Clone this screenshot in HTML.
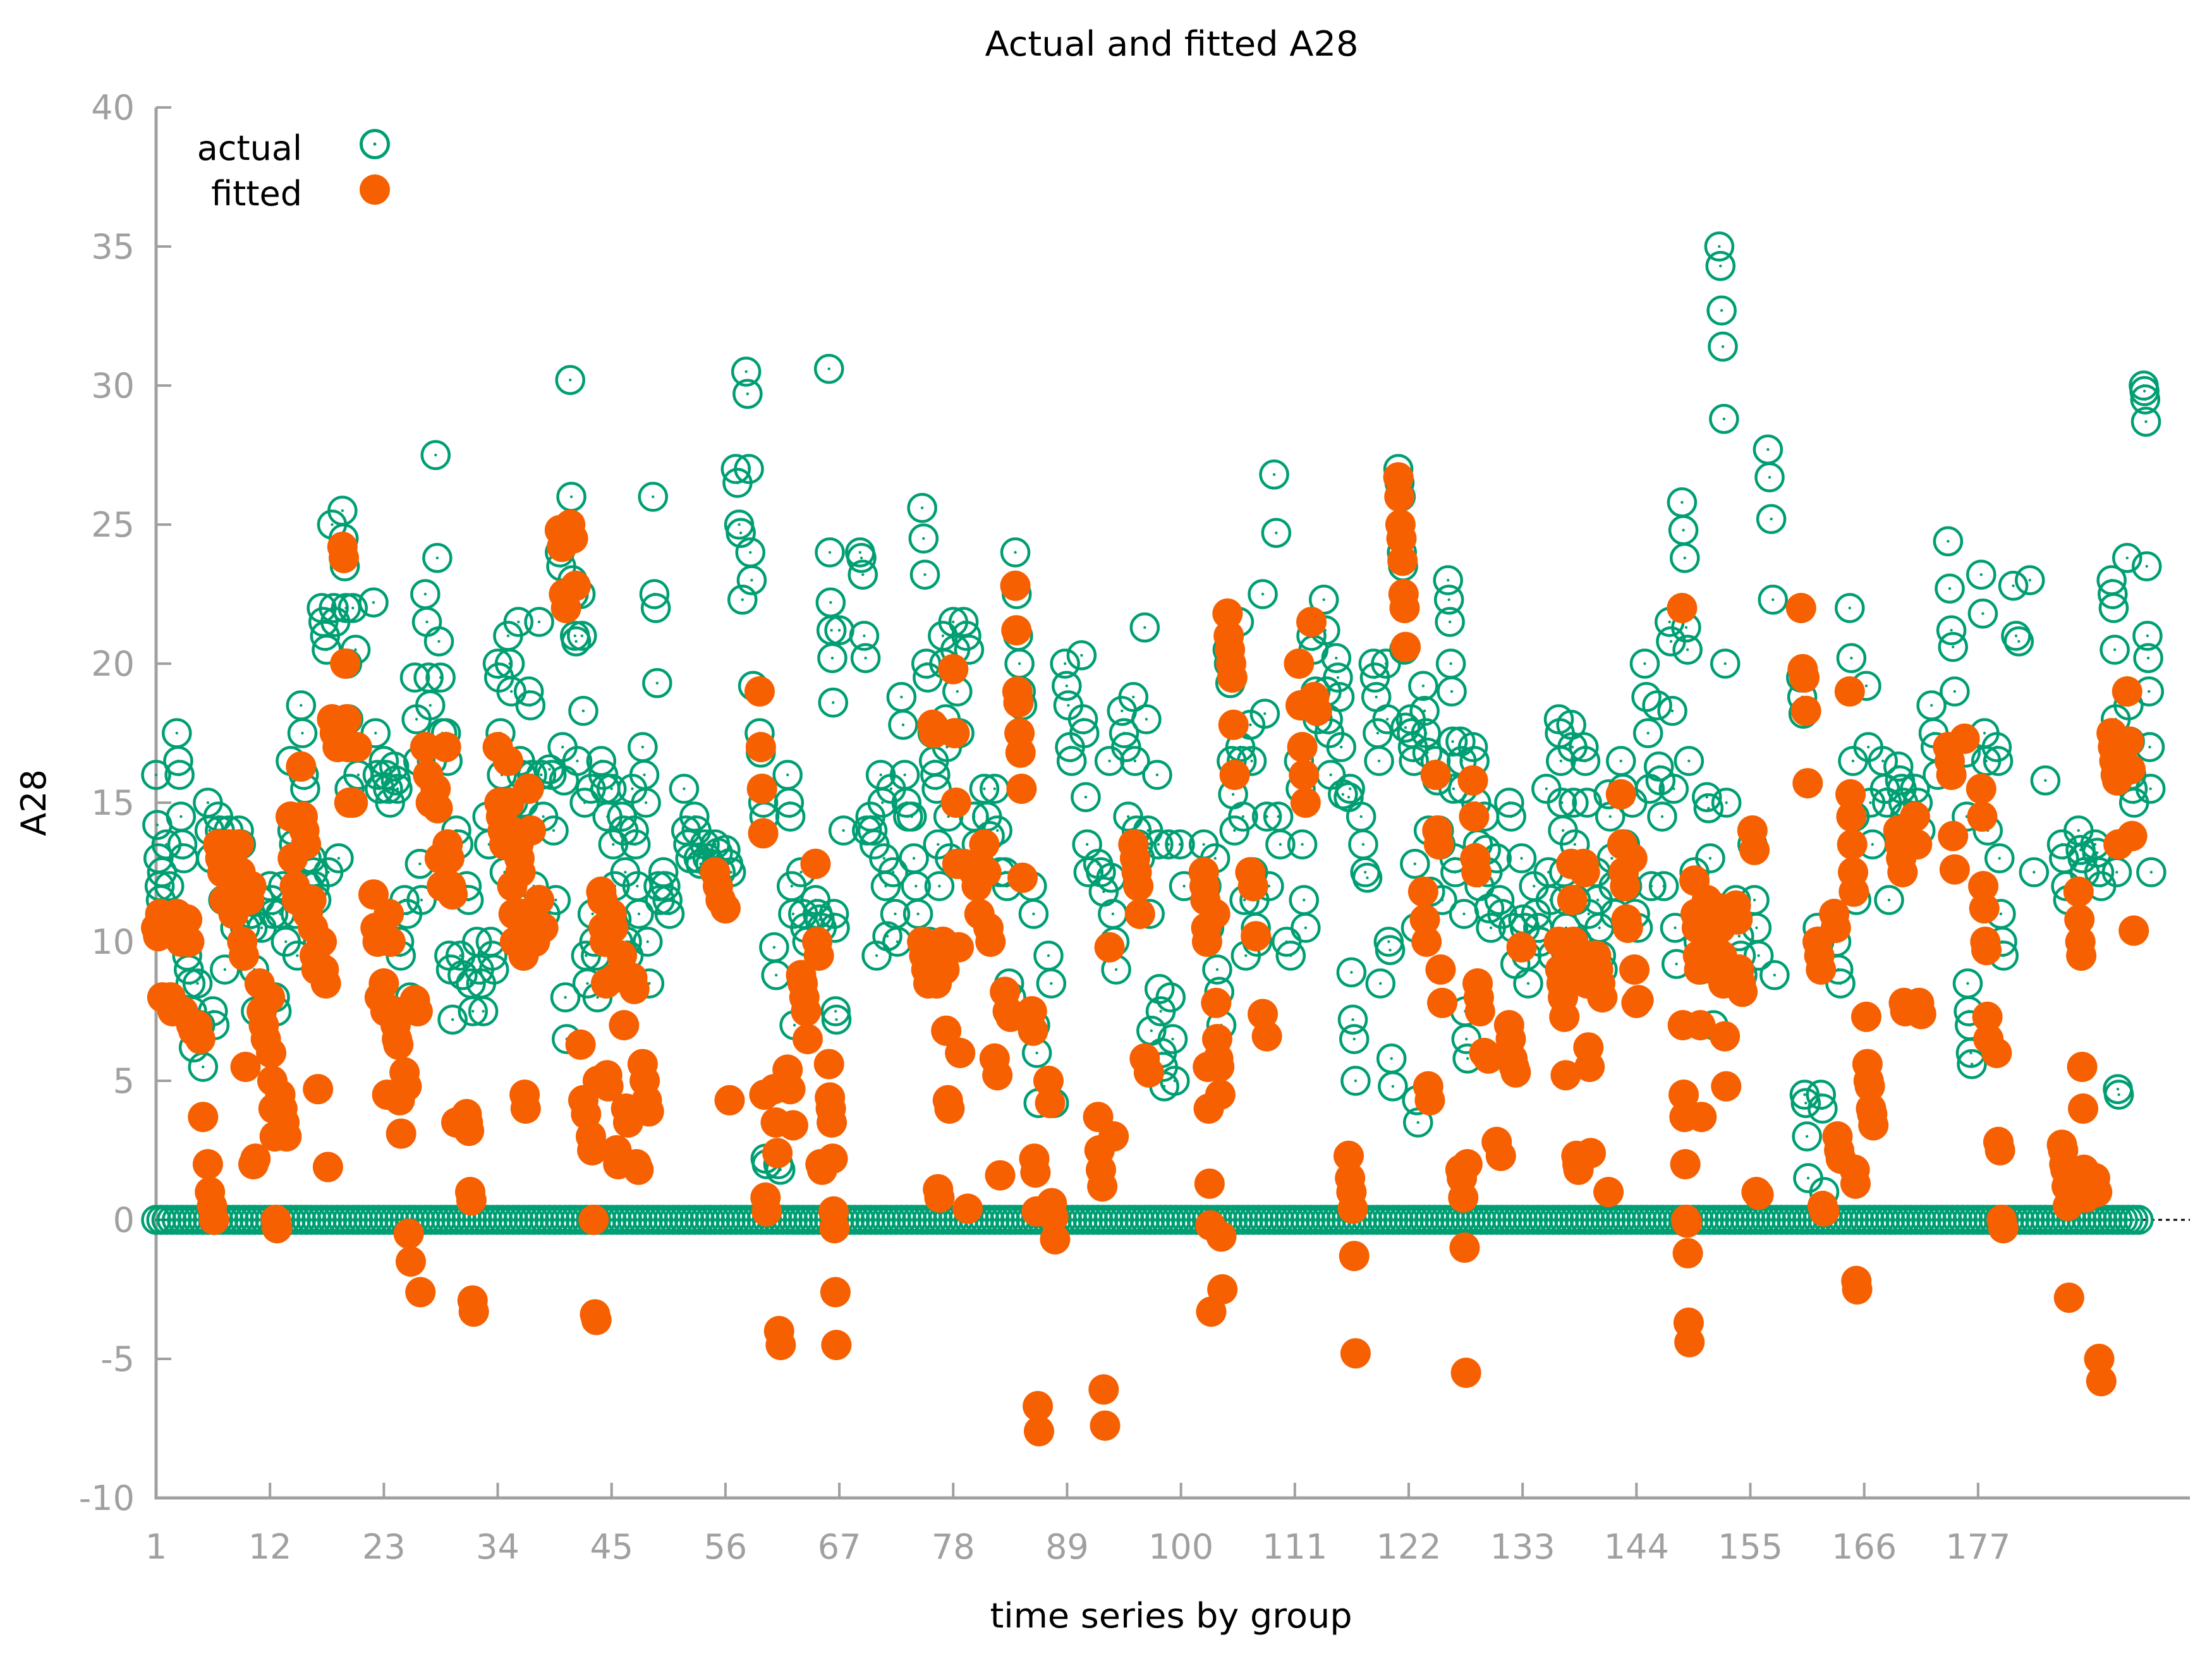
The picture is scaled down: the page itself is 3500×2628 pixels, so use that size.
<!DOCTYPE html>
<html><head><meta charset="utf-8"><style>
html,body{margin:0;padding:0;background:#fff;}
svg{display:block;}
text{font-family:"DejaVu Sans","Liberation Sans",sans-serif;}
</style></head>
<body>
<svg id="chart" width="3500" height="2628" viewBox="0 0 3500 2628" xmlns="http://www.w3.org/2000/svg">
<text x="1854" y="88" font-size="54" text-anchor="middle" textLength="591" lengthAdjust="spacingAndGlyphs" fill="#000">Actual and fitted A28</text>
<text x="0" y="0" font-size="54" text-anchor="middle" fill="#000" transform="translate(72,1270) rotate(-90)">A28</text>
<text x="1853" y="2575" font-size="54" text-anchor="middle" textLength="573" lengthAdjust="spacingAndGlyphs" fill="#000">time series by group</text>
<g id="axes"></g>
<g id="zeroline"></g>
<g id="actual"></g>
<g id="fitted"></g>
<g id="legend">
<text x="478" y="253" font-size="54" text-anchor="end" fill="#000">actual</text>
<circle cx="593" cy="228" r="21.5" fill="none" stroke="#009e73" stroke-width="5"/>
<circle cx="593" cy="228" r="2.5" fill="#009e73"/>
<text x="478" y="325" font-size="54" text-anchor="end" fill="#000">fitted</text>
<circle cx="593" cy="300" r="24" fill="#f66000"/>
</g>
</svg>
<script>
const xTicks = [1,12,23,34,45,56,67,78,89,100,111,122,133,144,155,166,177];
const yTicks = [-10,-5,0,5,10,15,20,25,30,35,40];
const clusterX = [1,2,3,4,5,6,7,8,9,10,11,12,13,14,15,16,17,18,19,20,21,22,23,24,25,26,27,28,29,30,31,32,33,34,35,36,37,38,39,40,41,42,43,44,45,46,47,48,49,50,51,52,53,54,55,56,57,58,
59.3,60.7,62,63.3,64.7,66,67,68,69,70,71,72,73,74,75,76,77,78,79,80,81,82,83,84,85.6,87.2,88.8,90.4,92,93.1,94.3,95.4,96.5,97.7,98.8,99.9,101.1,102.2,103.3,104.5,105.6,106.7,107.9,109,
110.2,111.4,112.6,113.8,115,116.2,117.4,118.6,119.8,121,122.2,123.4,124.6,125.8,127,128.2,129.3,130.5,131.7,132.9,134.1,135.3,136.5,137.7,138.9,140.1,141.3,142.5,143.6,144.8,146,147.2,148.4,149.6,150.8,152,
153.6,155.2,156.7,158.3,159.9,161.5,163.1,164.6,166.2,167.8,169.3,170.9,172.5,174.1,175.7,177.3,178.8,180.4,182,183.5,185.1,186.7,188.3,189.9,191.4,193];
const actualVals = [
"16 14.2 13 12 11.5 12.5 10.3","13.5 12 11","17.5 16.5 16 14.5 13.5 13","9.5 9 8.5 7.5 6.2","8.5 7 5.5","15 14 13 7.5 7","14.5 14 13.5 11.5 9","14 13.5 12.5 11 10.5","14 13.5 12 10.5","12 11 10.5 9 7.5",
"11.5 10.5 7 6.5","12 11.5 11 8 7.5","11 12 10","16.5 14 13.5 11 9.5","18.5 17.5 16 15.5 13 12","13 12.5 12 11.5 10","22 21.5 21 20.5 12.5","25 22 21.5 17.5 13","25.5 24.5 23.5 22 20 18 15.5","22 20.5 16",
"","22.2 17.5 16 15.5","16.5 16 15.5 15","16.3 15.8 15.5 10 9.5","11.5 11 8","19.5 18 16.5 12.8 11.5","22.5 21.5 19.5 18.5 16.5","27.5 23.8 20.8 19.5 17.5","17.5 16.5 9.5 9 7.2","14 13.5 9.5 8.8",
"12 11.5 8.5 7.5","10 9 8.5 7.5","14.5 13.5 10 9.5 9","20 19.5 17.5 16 15 12.5","21 20 19 15 14","21.5 16.5 16 15 14","19 18.5 16 12 11","21.5 16 14.5 11","16.2 16 14 11.5","24 23.5 17 15.8 8 6.5",
"30.2 26 23 22.5 21 20.8 16.5","22.5 21 18.3 15 9.5 8.5","15.5 11 10 9.5 8","16.5 16 15.5 14.5","15.5 13.5 12 10.8 10","14.5 14 12.5 10 9.5","15.5 14 13.5 12 11","17 16 15 10 8.5","26 22.5 22 19.3 12 11.5","12.5 12 11.5 11",
"","15.5 14 13.5 13","14.5 14 13 12.8","13.5 13 12.8","13.5 13.2 12.5","13.3 12.8 12.5","27 26.5 25 24.7 22.3","30.5 29.7 27 24 23 19.2","17.5 16.8 15.5 15 14.5 2.2 2","9.8 8.8 2 1.8",
"16 15 14.5 12 11 7","12.5 11 10.5 10","11.5 11 10.8 10.5","30.6 24 22.2 21.2 20.2 18.6 11 10.5 7.5 7.2","21.2 14","","24 23.8 23.2 21 20.2 14","14.5 14 13.5 9.5","16 15 13 12 10.2","15.5 12.5 11 10",
"18.8 17.8 16 15 14.5","14.5 13 12 11","25.6 24.5 23.2 20 19.5 10","17.5 16.5 16 15.5 13.5 12","21 20 18 17 14.5 13","21.5 20.5 19 17.5","21.5 21 20.5","14.5 13.5 12.8","15.5 14.5 13.8","15.5 14 12.5",
"12.5 12 8.5 8","24 22.5 21 20 19 18.5","12 11 7 6 4.2","9.5 8.5 4.2","20 19.2 18.5 17 16.5","20.3 18 17.5 15.2 13.5 12.5","12.8 12.5 11.8","16.5 12.3 11 10 9","18.3 17.5 17 14.5","18.8 16.5 14 13.5 13",
"21.3 18 14 11 6.8","16 13.5 8.3 7.5 6 5.5 4.8","13.5 8 6.5 5","13.5 12","","13.5 12 10.5","13 9 8.2 7","20.5 20 19.3 16.5 15.3 14","21.5 17 16.5 14.5 11.5 9.5","17.8 16.5 12.5 11.5 10.5 10",
"22.5 18.2 14.5 12","26.8 24.7 14.5 13.5","10 9.5","16.5 15.5 13.5 11.5 10.5","21 20.5 19 18","22.3 21.2 19 18 17.5 16","20.2 19.5 18.8 17 15.3","15.2 15.5 8.9 7.2 6.5 5","14.5 13.5 12.5 12.3","20 19.5 18.8 17.5 16.5 8.5",
"20 18 10 9.7 5.8 4.8","27 26.5 26 24 23.5 20.5 17.7","18 17.5 17 16.5 12.8 10.5 4.3 3.5","19.2 18.3 17.5 16.8 14 11.8","16.5 15.8 14 13.5 11.5","23 22.3 21.5 20 19 17.2 15.5 13 12.5","17.2 16.5 15.5 11 7.5 6.5 5.8","17 16.5 15 13.5 12","14.5 13.3 12.5 11.2 10.5","13 11.5 11",
"15 14.5 10.5 9.2","13 10.8 10.5 9.5 8.5","12 11 10.5 10","15.5 12.5 11.5 9.5","18 17.5 16.5 15 14 12.5 11.5 10.5","17.8 17 15 13.5 11.5 10 9","17 16.5 15 11 9.5","12.5 11.5 10.5 9.5 9","15.3 14.5 13 12 11","16.5 15.5 13.5 12",
"15 11 10.5","20 18.8 17.5 15.5 12","18.5 16.3 15.8 14.5 12","21.5 20.8 18.3 15.5 10.5 9.2","25.8 24.8 23.8 21.3 20.5 16.5","12.5 11 10 9","15.2 14.8 13 11 7","35 34.3 32.7 31.4 28.8 20 15","11.5 10.8 10.2 9.5 8.8","13.5 11.5 10.5 9.5",
"27.7 26.7 25.2 22.3 8.8","","19.5 18.8 18.2 4.5 4.2 3 1.5","10.5 10 4.5 4 1","11 10 9 8.5","22 20.2 16.5 14.5 11.5","19.2 17 15 13.5","16.5 15.5 15 11.5","16.3 15.8 15.5 15 14.5","15.5 15 14",
"18.5 17.5 17 16","24.4 22.7 21.2 20.6 19","17.3 16.8 14.5 8.5 7.5 7 6 5.6","23.2 21.8 17.5 16.5 14","17 16.5 13 11 10 9.5","22.8 21 20.8","23 12.5","15.8","13.5 13 12 11.5","14 13.3 13 12.5",
"13.5 13.2 12.5 12","23 22.5 22 20.5 18 12.5 4.7 4.5","23.8 18.5 17.2 16 15.5 15","30 29.8 29.5 28.7 23.5 21 20.2 19 17 15.5 12.5"];
const fittedVals = [
"10.5 10.2 11 8","10.8 10.5 8 7.5","11 10.5 10 7.5","10.8 10 7 6.8","7 6.5 3.7","2 1 0.5 0","13.5 13 12.5 11.5","13.5 13 12 11 11.5","13.5 12.5 10 9.5 5.5","11.5 12 2 2.2",
"8.5 7.5 7 6.5","8 6 5 4 3 0 -0.3","4.5 4 3.5 3","14.5 13 12 11.5","16.3 14.5 14 13.5 11","11.5 10.5 9.5 9 4.7","10 9 8.5 1.9","18 17.5 17","24.2 23.8 20 18 17 15","15 17",
"","11.7 10.5 10 8","8.5 7.5 4.5 11 10","7.5 7 6.5 6.3 4.3 3.1","5.3 4.8 -0.5 -1.5","7.9 7.5 -2.6","17 16 15","15.5 14.8 13 12","17 13.5 13 12 11.7","3.5",
"3.8 3.5 3.2 1 0.7 -2.9 -3.3","","","17 15 14.5 14 13.5","16.5 15 14 12 11 10","13.5 13 12.5 11 10 9.5 4.5 4","15.5 14 11 10","11.5 10.5","","24.8 24.2 22.5 22",
"25 24.5 22.8","6.3 4.3 3.8","3 2.5 0 -3.4 -3.6 5","11.8 11.5 10.5 10 8.5 5.2 4.8","11 10.5 8.7 2.5 2","9.5 7 4 3.5","8.7 8.3 2 1.8","5.6 5 4.3 3.9","","",
"","","","","12.5 12 11.5","11.2 4.3","","","19 17 15.5 13.9 4.5 0.8 0.3","4.7 3.5 2.4 -4 -4.5",
"5.4 4.7 3.4","8.8 8.5 8 7.5 6.5","12.8 10 9.5 2 1.8","5.6 4.4 4 3.5 2.2 0.3 -0.3 -2.6 -4.5","","","","","","",
"","","10 9.5 9 8.5","17.8 17.5 9.5 8.5 1.1 0.8","10 9 6.8 4.3 4","19.8 17.5 15 12.8 9.8 6","12.8 0.4","12.5 12 11","13.5 12.5 10.5 10","5.8 5.2 1.6",
"8.2 7.5 7.3","22.8 21.2 19 18.6 17.5 16.8 15.5 12.3","7.5 6.8 2.2 1.7 0.3 -6.7 -7.6","5 4.2 0.6 0.1 -0.7","","","3.7 2.5 1.8 1.2 -6.1 -7.4","9.8 3","","13.5 13 12.5 12 11",
"5.8 5.3","","","","","12.5 12 11.5 10.5 10 5.5 4 1.3 -0.2 -3.3","11 7.8 6.5 5.8 5.5 4.5 -0.6 -2.5","21.8 21 20.5 20 19.5 17.8 16","","12.5 12 10.2",
"7.4 6.6","","","20 18.5 17 16 15","21.5 18.8 18.3","","","2.3 1.5 1 0.4 -1.3 -4.8","","",
"","26.7 26 25 24.5 23.7 22.5 22 20.6","","11.8 10.8 10 4.8 4.3","16 14 13.5 9 7.8","","1.8 1.5 0.8 -1 -5.5 2","15.8 14.5 13 12.5 8.5 8 7.5","6 5.8","2.8 2.3",
"7 6.5 5.8 5.5 5.3","9.8","","","10 9 8.5 8 7.3 5.2","12.8 11.5 10 9.5 9 2.3 2 1.8","12.8 12.5 9.5 8.5 6.2 5.5 2.4","9.5 9 8.5 8","1","15.3 13.5 12.5 12 10.8 10.5",
"13 9 7.8 7.9","","","","22 7 4.5 3.7 2 0 -0.1 -1.2 -3.7 -4.4","12.2 11 10.5 9.5 9 7 3.7","11.5 10.5 10 9.5 9","11.2 10.5 9.5 8.5 6.6 4.8","11.3 10.8 9 8.5 8.2","14 13.3 1 0.9",
"","","22 19.8 19.5 18.3 15.7","10 9.5 9 0.5 0.3","11 10.5 3 2.5 2.2","19 15.3 14.5 13.5 12.5 11.8 1.8 1.3 -2.2 -2.5","7.3 5.6 5 4.8 4 3.8 3.4","","14 13.5 13 12.5 7.8 7.5","14.5 13.5 7.8 7.4",
"","17 16.5 16 13.8 12.6","17.3","15.5 14.5 12 11.2 10 9.7 7.3 6.5","6 2.8 2.5 0 -0.3","","","","2.7 2.5 2 1.8 1.2 0.5 -2.8","11.8 10.8 10 9.5 5.5 4 1.8 1.5 0.8",
"1.5 1 -5 -5.8","17.5 17 16.5 16 15.8 13.5","19 17.2 16.2 13.8 10.4",""];
const zeroGroups = [1,2,3,4,5,6,7,8,9,10,11,12,13,14,15,16,17,18,19,20,21,22,23,24,25,26,27,28,29,30,31,32,33,34,35,36,37,38,39,40,41,42,43,44,45,46,47,48,49,50,
51,52,53,54,55,56,57,58,59,60,61,62,63,64,65,66,67,68,69,70,71,72,73,74,75,76,77,78,79,80,81,82,83,84,85,86,87,88,89,90,91,92,93,94,95,96,97,98,99,100,
101,102,103,104,105,106,107,108,109,110,111,112,113,114,115,116,117,118,119,120,121,122,123,124,125,126,127,128,129,130,131,132,133,134,135,136,137,138,139,140,
141,142,143,144,145,146,147,148,149,150,151,152,153,154,155,156,157,158,159,160,161,162,163,164,165,166,167,168,169,170,171,172,173,174,175,176,177,178,179,180,
181,182,183,184,185,186,187,188,189,190,191,192];

const NS = "http://www.w3.org/2000/svg";
const X0 = 247, XU = 16.38, Y0 = 1930, YU = 44.0;
function xs(v){ return X0 + (v - 1) * XU; }
function ys(v){ return Y0 - v * YU; }
function mk(tag, attrs, parent){
  const e = document.createElementNS(NS, tag);
  for (const k in attrs) e.setAttribute(k, attrs[k]);
  parent.appendChild(e);
  return e;
}
const GRAY = "#a0a0a0", GREEN = "#009e73", ORANGE = "#f66000";
const axes = document.getElementById("axes");
let el = mk("line", {x1: X0, y1: ys(40), x2: X0, y2: ys(-10), stroke: GRAY, "stroke-width": 5}, axes);


el = mk("line", {x1: X0 - 2.5, y1: ys(-10), x2: 3465, y2: ys(-10), stroke: GRAY, "stroke-width": 5}, axes);


yTicks.forEach(v => {
  const t = mk("line", {x1: X0, y1: ys(v), x2: X0 + 24, y2: ys(v), stroke: GRAY, "stroke-width": 4}, axes);
  
  
  const l = mk("text", {x: 213, y: ys(v) + 19, "font-size": 54, "text-anchor": "end", fill: GRAY}, axes);
  l.textContent = String(v);
  
  
});
xTicks.forEach(v => {
  const t = mk("line", {x1: xs(v), y1: ys(-10), x2: xs(v), y2: ys(-10) - 24, stroke: GRAY, "stroke-width": 4}, axes);
  
  
  const l = mk("text", {x: xs(v), y: 2466, "font-size": 54, "text-anchor": "middle", fill: GRAY}, axes);
  l.textContent = String(v);
  
  
});
const zl = mk("line", {x1: X0, y1: ys(0), x2: 3465, y2: ys(0), stroke: "#000", "stroke-width": 3, "stroke-dasharray": "6 6"}, document.getElementById("zeroline"));



const gA = document.getElementById("actual");
const gF = document.getElementById("fitted");
function drawActual(xv, yv){
  const c = mk("circle", {cx: xs(xv), cy: ys(yv), r: 21.5, fill: "none", stroke: GREEN, "stroke-width": 4.5}, gA);
  
  
  const d = mk("circle", {cx: xs(xv), cy: ys(yv), r: 2.2, fill: GREEN}, gA);
  
  
}
zeroGroups.forEach(g => { drawActual(g, 0); drawActual(g + 0.5, 0); });
clusterX.forEach((cx, i) => {
  const a = (actualVals[i] || "").trim();
  if (a) { const vals = a.split(/\s+/).map(Number); vals.forEach((v, j) => drawActual(cx + 0.8 * j / vals.length, v)); }
});
clusterX.forEach((cx, i) => {
  const f = (fittedVals[i] || "").trim();
  if (f) {
    const vals = f.split(/\s+/).map(Number);
    vals.forEach((v, j) => {
      const c = mk("circle", {cx: xs(cx + 0.8 * j / vals.length), cy: ys(v), r: 24, fill: ORANGE}, gF);
      
      
    });
  }
});
</script>
</body></html>
